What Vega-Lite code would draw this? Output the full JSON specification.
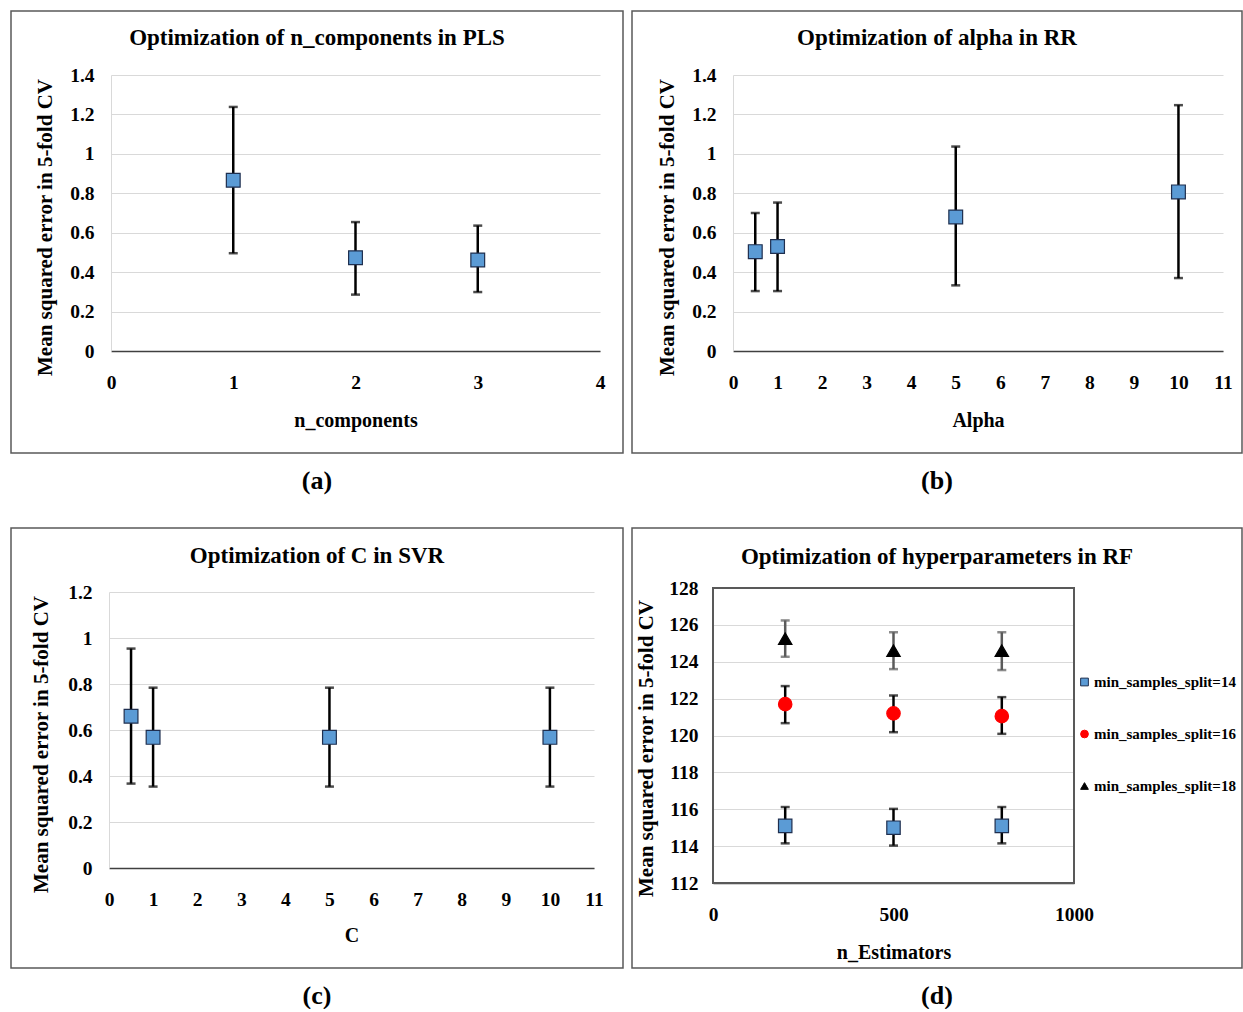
{
  "$schema": "https://vega.github.io/schema/vega-lite/v6.json",
  "background": "white",
  "padding": {"left": 10, "top": 10, "right": 0, "bottom": 0},
  "datasets": {
    "pls": [
      {"n_components": 1, "mse": 0.866, "lo": 0.496, "hi": 1.238},
      {"n_components": 2, "mse": 0.473, "lo": 0.286, "hi": 0.654},
      {"n_components": 3, "mse": 0.462, "lo": 0.299, "hi": 0.636}
    ],
    "rr": [
      {"alpha": 0.5, "mse": 0.504, "lo": 0.304, "hi": 0.7},
      {"alpha": 1, "mse": 0.53, "lo": 0.304, "hi": 0.753},
      {"alpha": 5, "mse": 0.68, "lo": 0.333, "hi": 1.037},
      {"alpha": 10, "mse": 0.807, "lo": 0.37, "hi": 1.247}
    ],
    "svr": [
      {"C": 0.5, "mse": 0.66, "lo": 0.367, "hi": 0.954},
      {"C": 1, "mse": 0.568, "lo": 0.354, "hi": 0.784},
      {"C": 5, "mse": 0.568, "lo": 0.354, "hi": 0.784},
      {"C": 10, "mse": 0.568, "lo": 0.354, "hi": 0.784}
    ],
    "rf": [
      {"n_estimators": 200, "split": "min_samples_split=14", "mse": 115.1, "lo": 114.15, "hi": 116.12},
      {"n_estimators": 500, "split": "min_samples_split=14", "mse": 115.0, "lo": 114.03, "hi": 116.02},
      {"n_estimators": 800, "split": "min_samples_split=14", "mse": 115.1, "lo": 114.15, "hi": 116.12},
      {"n_estimators": 200, "split": "min_samples_split=16", "mse": 121.7, "lo": 120.67, "hi": 122.68},
      {"n_estimators": 500, "split": "min_samples_split=16", "mse": 121.2, "lo": 120.18, "hi": 122.17},
      {"n_estimators": 800, "split": "min_samples_split=16", "mse": 121.05, "lo": 120.09, "hi": 122.08},
      {"n_estimators": 200, "split": "min_samples_split=18", "mse": 125.25, "lo": 124.27, "hi": 126.24},
      {"n_estimators": 500, "split": "min_samples_split=18", "mse": 124.6, "lo": 123.6, "hi": 125.6},
      {"n_estimators": 800, "split": "min_samples_split=18", "mse": 124.6, "lo": 123.55, "hi": 125.6}
    ]
  },
  "config": {
    "font": "Liberation Serif",
    "view": {"stroke": "#595959", "strokeWidth": 1.5},
    "title": {"font": "Liberation Serif", "fontWeight": "bold", "fontSize": 23, "color": "black", "anchor": "middle"},
    "axis": {
      "labelFont": "Liberation Serif", "labelFontWeight": "bold", "labelFontSize": 19.5, "labelColor": "black",
      "titleFont": "Liberation Serif", "titleFontWeight": "bold", "titleFontSize": 20, "titleColor": "black",
      "ticks": false, "gridColor": "#d9d9d9", "gridWidth": 1, "labelFlush": false, "labelOverlap": false,
      "titleBaseline": "middle"
    },
    "axisX": {"grid": false, "labelPadding": 22, "domainColor": "#404040", "domainWidth": 1.5},
    "axisY": {"grid": true, "labelPadding": 17, "domainColor": "#d9d9d9", "domainWidth": 1, "titleAngle": -90, "titleFontSize": 21}
  },
  "spacing": 33,
  "vconcat": [
    {
      "spacing": 7,
      "hconcat": [
        {
          "title": {"text": "(a)", "orient": "bottom", "anchor": "middle", "fontSize": 26, "offset": 14, "baseline": "top"},
          "vconcat": [
            {
              "width": 612, "height": 442,
              "title": {"text": "Optimization of n_components in PLS", "offset": -50, "baseline": "middle"},
              "data": {"name": "pls"},
              "encoding": {
                "x": {"field": "n_components", "type": "quantitative",
                  "scale": {"domain": [0, 4], "range": [100, 589], "nice": false, "zero": false},
                  "axis": {"title": "n_components", "values": [0, 1, 2, 3, 4], "offset": -102, "titleY": 69}}
              },
              "layer": [
                {"mark": {"type": "rule", "color": "black", "strokeWidth": 2.5},
                 "encoding": {"y": {"field": "lo", "type": "quantitative", "scale": {"domain": [0, 1.4], "range": [340, 64], "nice": false, "zero": false}}, "y2": {"field": "hi"}}},
                {"mark": {"type": "tick", "orient": "horizontal", "color": "black", "size": 9, "thickness": 2.5},
                 "encoding": {"y": {"field": "lo", "type": "quantitative", "scale": {"domain": [0, 1.4], "range": [340, 64], "nice": false, "zero": false}}}},
                {"mark": {"type": "tick", "orient": "horizontal", "color": "black", "size": 9, "thickness": 2.5},
                 "encoding": {"y": {"field": "hi", "type": "quantitative", "scale": {"domain": [0, 1.4], "range": [340, 64], "nice": false, "zero": false}}}},
                {"mark": {"type": "point", "shape": "square", "filled": true, "size": 190, "color": "#5b9bd5", "stroke": "#1f2f4f", "strokeWidth": 1.2, "opacity": 1},
                 "encoding": {"y": {"field": "mse", "type": "quantitative", "scale": {"domain": [0, 1.4], "range": [340, 64], "nice": false, "zero": false},
                   "axis": {"title": "Mean squared error in 5-fold CV", "values": [0, 0.2, 0.4, 0.6, 0.8, 1, 1.2, 1.4], "format": "~g", "offset": -100, "titleX": -66, "titleY": 216}}}}
              ]
            }
          ]
        },
        {
          "title": {"text": "(b)", "orient": "bottom", "anchor": "middle", "fontSize": 26, "offset": 14, "baseline": "top"},
          "vconcat": [
            {
              "width": 610, "height": 442,
              "title": {"text": "Optimization of alpha in RR", "offset": -50, "baseline": "middle"},
              "data": {"name": "rr"},
              "encoding": {
                "x": {"field": "alpha", "type": "quantitative",
                  "scale": {"domain": [0, 11], "range": [101, 591], "nice": false, "zero": false},
                  "axis": {"title": "Alpha", "values": [0, 1, 2, 3, 4, 5, 6, 7, 8, 9, 10, 11], "offset": -102, "titleY": 69}}
              },
              "layer": [
                {"mark": {"type": "rule", "color": "black", "strokeWidth": 2.5},
                 "encoding": {"y": {"field": "lo", "type": "quantitative", "scale": {"domain": [0, 1.4], "range": [340, 64], "nice": false, "zero": false}}, "y2": {"field": "hi"}}},
                {"mark": {"type": "tick", "orient": "horizontal", "color": "black", "size": 9, "thickness": 2.5},
                 "encoding": {"y": {"field": "lo", "type": "quantitative", "scale": {"domain": [0, 1.4], "range": [340, 64], "nice": false, "zero": false}}}},
                {"mark": {"type": "tick", "orient": "horizontal", "color": "black", "size": 9, "thickness": 2.5},
                 "encoding": {"y": {"field": "hi", "type": "quantitative", "scale": {"domain": [0, 1.4], "range": [340, 64], "nice": false, "zero": false}}}},
                {"mark": {"type": "point", "shape": "square", "filled": true, "size": 190, "color": "#5b9bd5", "stroke": "#1f2f4f", "strokeWidth": 1.2, "opacity": 1},
                 "encoding": {"y": {"field": "mse", "type": "quantitative", "scale": {"domain": [0, 1.4], "range": [340, 64], "nice": false, "zero": false},
                   "axis": {"title": "Mean squared error in 5-fold CV", "values": [0, 0.2, 0.4, 0.6, 0.8, 1, 1.2, 1.4], "format": "~g", "offset": -101, "titleX": -66, "titleY": 216}}}}
              ]
            }
          ]
        }
      ]
    },
    {
      "spacing": 7,
      "hconcat": [
        {
          "title": {"text": "(c)", "orient": "bottom", "anchor": "middle", "fontSize": 26, "offset": 14, "baseline": "top"},
          "vconcat": [
            {
              "width": 612, "height": 440,
              "title": {"text": "Optimization of C in SVR", "offset": -51, "baseline": "middle"},
              "data": {"name": "svr"},
              "encoding": {
                "x": {"field": "C", "type": "quantitative",
                  "scale": {"domain": [0, 11], "range": [98, 583], "nice": false, "zero": false},
                  "axis": {"title": "C", "values": [0, 1, 2, 3, 4, 5, 6, 7, 8, 9, 10, 11], "offset": -100, "titleY": 67}}
              },
              "layer": [
                {"mark": {"type": "rule", "color": "black", "strokeWidth": 2.5},
                 "encoding": {"y": {"field": "lo", "type": "quantitative", "scale": {"domain": [0, 1.2], "range": [340, 64], "nice": false, "zero": false}}, "y2": {"field": "hi"}}},
                {"mark": {"type": "tick", "orient": "horizontal", "color": "black", "size": 9, "thickness": 2.5},
                 "encoding": {"y": {"field": "lo", "type": "quantitative", "scale": {"domain": [0, 1.2], "range": [340, 64], "nice": false, "zero": false}}}},
                {"mark": {"type": "tick", "orient": "horizontal", "color": "black", "size": 9, "thickness": 2.5},
                 "encoding": {"y": {"field": "hi", "type": "quantitative", "scale": {"domain": [0, 1.2], "range": [340, 64], "nice": false, "zero": false}}}},
                {"mark": {"type": "point", "shape": "square", "filled": true, "size": 190, "color": "#5b9bd5", "stroke": "#1f2f4f", "strokeWidth": 1.2, "opacity": 1},
                 "encoding": {"y": {"field": "mse", "type": "quantitative", "scale": {"domain": [0, 1.2], "range": [340, 64], "nice": false, "zero": false},
                   "axis": {"title": "Mean squared error in 5-fold CV", "values": [0, 0.2, 0.4, 0.6, 0.8, 1, 1.2], "format": "~g", "offset": -98, "titleX": -68, "titleY": 216}}}}
              ]
            }
          ]
        },
        {
          "title": {"text": "(d)", "orient": "bottom", "anchor": "middle", "fontSize": 26, "offset": 14, "baseline": "top"},
          "vconcat": [
            {
              "width": 610, "height": 440,
              "title": {"text": "Optimization of hyperparameters in RF", "offset": -52, "baseline": "middle"},
              "data": {"name": "rf"},
              "encoding": {
                "x": {"field": "n_estimators", "type": "quantitative",
                  "scale": {"domain": [0, 1000], "range": [81, 442], "nice": false, "zero": false},
                  "axis": {"title": "n_Estimators", "values": [0, 500, 1000], "format": "d", "offset": -85, "titleY": 69}}
              },
              "layer": [
                {"mark": {"type": "rect", "filled": false, "color": "#595959", "strokeWidth": 1.5},
                 "encoding": {"x": {"datum": 0, "type": "quantitative"}, "x2": {"datum": 1000},
                   "y": {"datum": 112, "type": "quantitative", "scale": {"domain": [112, 128], "range": [355, 60], "nice": false, "zero": false}}, "y2": {"datum": 128}}},
                {"mark": {"type": "rule", "strokeWidth": 2.5},
                 "encoding": {"y": {"field": "lo", "type": "quantitative", "scale": {"domain": [112, 128], "range": [355, 60], "nice": false, "zero": false}}, "y2": {"field": "hi"},
                   "color": {"condition": {"test": "datum.split === 'min_samples_split=18'", "value": "#5a5a5a"}, "value": "black"}}},
                {"mark": {"type": "tick", "orient": "horizontal", "size": 9, "thickness": 2.5},
                 "encoding": {"y": {"field": "lo", "type": "quantitative", "scale": {"domain": [112, 128], "range": [355, 60], "nice": false, "zero": false}},
                   "color": {"condition": {"test": "datum.split === 'min_samples_split=18'", "value": "#5a5a5a"}, "value": "black"}}},
                {"mark": {"type": "tick", "orient": "horizontal", "size": 9, "thickness": 2.5},
                 "encoding": {"y": {"field": "hi", "type": "quantitative", "scale": {"domain": [112, 128], "range": [355, 60], "nice": false, "zero": false}},
                   "color": {"condition": {"test": "datum.split === 'min_samples_split=18'", "value": "#5a5a5a"}, "value": "black"}}},
                {"mark": {"type": "point", "filled": true, "size": 180, "strokeWidth": 1.2, "opacity": 1},
                 "encoding": {
                   "y": {"field": "mse", "type": "quantitative", "scale": {"domain": [112, 128], "range": [355, 60], "nice": false, "zero": false},
                     "axis": {"title": "Mean squared error in 5-fold CV", "values": [112, 114, 116, 118, 120, 122, 124, 126, 128], "offset": -81, "titleX": -67, "titleY": 220, "domainColor": "#595959", "labelPadding": 15}},
                   "color": {"field": "split", "type": "nominal",
                     "scale": {"domain": ["min_samples_split=14", "min_samples_split=16", "min_samples_split=18"], "range": ["#5b9bd5", "#ff0000", "#000000"]},
                     "legend": {"orient": "none", "legendX": 1066, "legendY": 663.5, "title": null, "padding": 0,
                       "labelFont": "Liberation Serif", "labelFontWeight": "bold", "labelFontSize": 15, "labelColor": "black",
                       "symbolSize": 60, "rowPadding": 36, "labelOffset": 2, "symbolStrokeWidth": 1}},
                   "shape": {"field": "split", "type": "nominal",
                     "scale": {"domain": ["min_samples_split=14", "min_samples_split=16", "min_samples_split=18"], "range": ["square", "circle", "triangle-up"]}},
                   "stroke": {"field": "split", "type": "nominal",
                     "scale": {"domain": ["min_samples_split=14", "min_samples_split=16", "min_samples_split=18"], "range": ["#1f2f4f", "#ff0000", "#000000"]}}
                 }}
              ]
            }
          ]
        }
      ]
    }
  ]
}
